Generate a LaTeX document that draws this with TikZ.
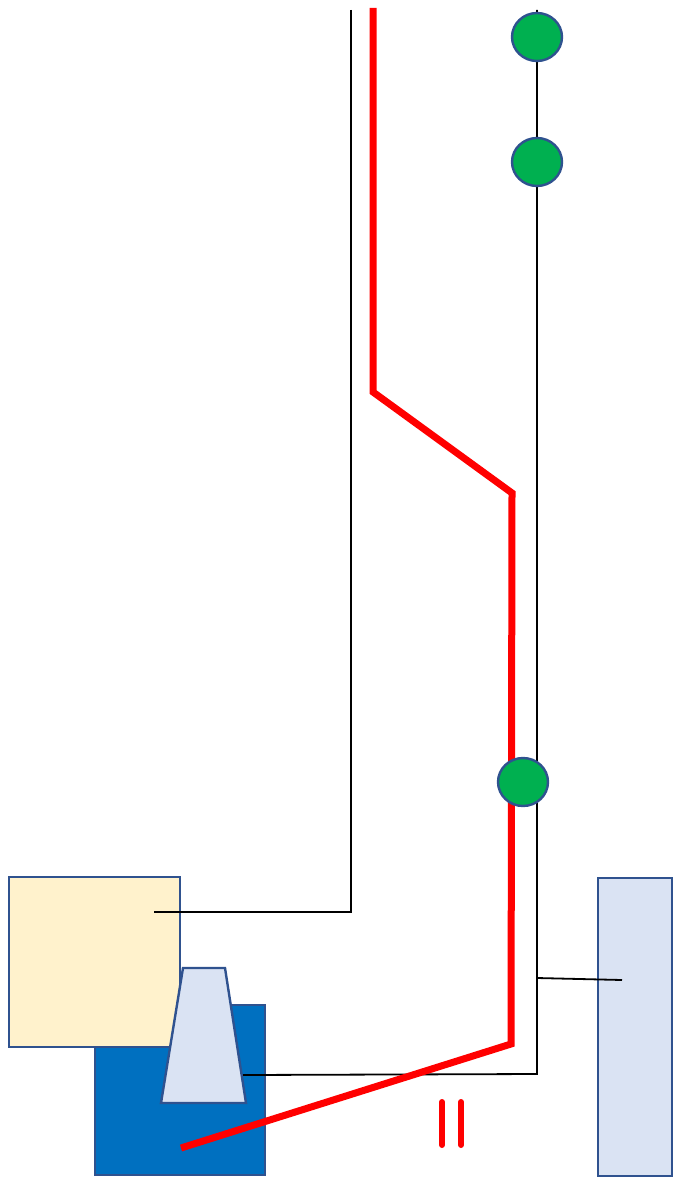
\documentclass[tikz,border=0pt]{standalone}
\usetikzlibrary{shapes.geometric}
\begin{document}
\begin{tikzpicture}[x=1pt,y=-1pt,
  box/.style={draw=bordc,line width=2.4pt},
  wire/.style={black,line width=1.8pt},
  redw/.style={red,line width=7pt,line join=miter},
  dot/.style={ellipse,draw=bordc,fill=dotg,line width=2.4pt,minimum width=50pt,minimum height=48pt,inner sep=0pt}]
\definecolor{bordc}{HTML}{2F528F}
\definecolor{cream}{HTML}{FFF2CC}
\definecolor{blu}{HTML}{0070C0}
\definecolor{lblu}{HTML}{DAE3F3}
\definecolor{dotg}{HTML}{00B050}
\useasboundingbox (0,0) rectangle (673,1177);
% coordinates
\coordinate (a0) at (351,10);
\coordinate (a1) at (351,912);
\coordinate (a2) at (154,912);
\coordinate (b0) at (537,10);
\coordinate (b1) at (537,1074);
\coordinate (b2) at (243,1075);
\coordinate (bj) at (537,978);
\coordinate (bk) at (622,980);
\coordinate (r0) at (373,8);
\coordinate (r1) at (373,392);
\coordinate (r2) at (512,493);
\coordinate (r3) at (511,1044);
\coordinate (r4) at (181,1148);
% shapes
\path[box,fill=blu] (95,1005) rectangle (265,1175);
\path[box,fill=cream] (9,877) rectangle (180,1047);
\node[box,fill=lblu,minimum width=74pt,minimum height=298pt,inner sep=0pt,anchor=north west] (rr) at (597,877) {};
\path[box,fill=lblu] (183,968) -- (225,968) -- (246,1103) -- (161,1103) -- cycle;
% wires
\draw[wire] (a0) -- (a1) -- (a2);
\draw[wire] (b0) -- (b1) -- (b2);
\draw[wire] (bj) -- (bk);
\draw[redw] (r0) -- (r1) -- (r2) -- (r3) -- (r4);
% dots
\node[dot] (d1) at (537,37) {};
\node[dot] (d2) at (537,162) {};
\node[dot] (d3) at (523,782) {};
% II marks
\coordinate (i1a) at (442,1102);
\coordinate (i1b) at (442,1145);
\coordinate (i2a) at (461,1102);
\coordinate (i2b) at (461,1145);
\draw[red,line width=6pt,line cap=round] (i1a) -- (i1b) (i2a) -- (i2b);
\end{tikzpicture}
\end{document}
